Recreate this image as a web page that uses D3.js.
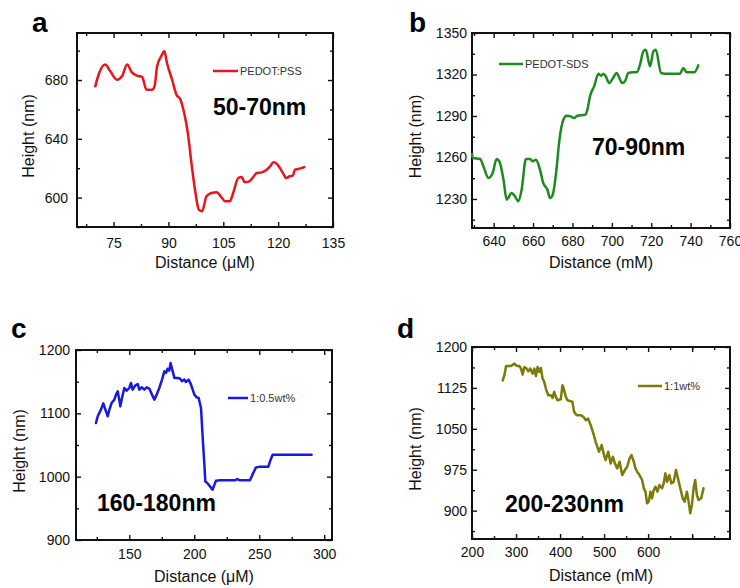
<!DOCTYPE html>
<html>
<head>
<meta charset="utf-8">
<script src="https://cdn.jsdelivr.net/npm/d3@7"></script>
<style>
  html, body { margin: 0; padding: 0; background: #fff; }
  svg { display: block; font-family: "Liberation Sans", Arial, sans-serif; }
</style>
</head>
<body>
<svg id="chart" width="740" height="588"></svg>
<script>
// ---- Height profiles (distance vs. film height) ----
const aDist = [70.0,70.9,72.7,74.1,75.9,77.3,78.7,80.0,81.4,82.8,84.0,85.5,86.2,86.9,88.0,88.9,89.6,91.0,92.2,93.3,94.2,95.3,96.4,97.4,98.3,99.2,100.4,101.8,103.2,104.3,105.5,106.8,107.7,109.1,110.0,110.9,112.1,113.2,114.1,115.5,116.7,117.8,118.7,119.6,120.5,121.4,122.2,123.2,124.0,124.6,125.5,126.4,127.1];
const aHeight = [675.7,683.6,690.5,685.9,680.2,682.5,690.5,685.2,683.0,682.1,673.4,673.4,675.7,689.3,696.1,699.5,691.6,680.2,670.0,666.6,658.7,644.0,621.3,603.1,591.8,590.7,600.9,603.1,603.6,600.9,597.5,597.5,603.1,613.3,614.0,610.4,611.1,614.0,616.7,617.2,618.6,621.3,624.0,623.1,620.1,616.3,613.3,614.5,614.9,619.0,619.5,620.1,620.8];

const bDist = [629.1,629.3,633.1,635.1,637.3,639.5,641.5,642.9,645.0,646.6,649.1,650.8,652.5,654.2,656.4,658.5,659.8,661.5,663.5,665.2,667.3,668.6,670.0,671.7,673.4,675.4,677.1,679.1,680.8,682.5,686.4,687.6,688.9,691.0,693.2,694.5,695.7,696.9,698.6,700.3,702.5,703.6,705.3,706.7,708.4,710.4,712.6,714.3,716.0,717.2,719.4,721.1,722.3,725.0,727.0,734.6,736.3,738.0,741.9,743.9];
const bHeight = [1262.5,1259.6,1258.9,1252.4,1245.2,1248.8,1258.9,1257.2,1243.9,1229.5,1234.3,1231.9,1228.3,1236.7,1258.9,1258.9,1257.2,1258.4,1251.2,1241.5,1236.7,1230.7,1233.1,1248.8,1272.9,1287.3,1290.2,1289.7,1288.5,1290.2,1290.9,1294.6,1304.2,1311.4,1320.5,1319.1,1320.6,1318.7,1313.8,1316.7,1321.1,1318.2,1313.8,1315.1,1321.1,1321.6,1321.6,1327.1,1336.7,1337.9,1325.9,1336.7,1337.9,1321.1,1320.6,1320.6,1324.7,1321.6,1321.6,1326.6];

const cDist = [124.4,125.7,128.2,130.0,131.6,133.4,134.7,136.4,138.5,139.8,141.1,142.3,143.1,144.4,146.2,148.0,150.0,151.3,152.6,154.7,156.5,157.7,159.5,161.6,163.4,165.4,167.5,169.3,171.1,173.1,175.2,177.0,178.3,179.5,180.8,181.8,183.4,184.7,187.2,189.0,190.6,192.4,193.6,195.7,197.5,198.8,200.1,201.9,203.4,205.2,206.5,207.8,208.5,210.0,214.1,216.7,219.8,231.3,233.1,235.2,242.9,245.4,247.5,250.6,257.0,258.3,260.3,290.3];
const cHeight = [1084.7,1095.3,1105.8,1115.8,1105.8,1095.3,1105.8,1116.3,1121.6,1129.5,1134.7,1121.6,1111.0,1124.2,1140.0,1135.8,1140.0,1147.9,1137.4,1144.2,1146.3,1137.4,1141.1,1137.4,1141.1,1139.1,1129.5,1121.6,1129.5,1140.0,1153.3,1166.3,1163.8,1170.5,1167.4,1179.5,1166.3,1155.9,1155.9,1154.9,1150.6,1153.3,1149.5,1153.3,1145.3,1137.4,1129.5,1125.3,1124.2,1108.4,1061.0,1018.9,992.6,990.0,979.5,993.7,994.2,994.2,996.3,994.2,994.2,1005.8,1014.7,1015.8,1015.8,1024.2,1034.7,1034.7];

const dDist = [269.8,273.6,277.4,288.7,296.2,302.3,307.5,311.3,315.1,318.8,324.1,327.9,332.4,337.7,341.5,345.2,349.0,352.8,356.5,360.3,364.1,367.8,373.1,379.1,382.9,386.7,390.4,394.2,401.8,405.5,409.3,413.1,416.8,424.4,428.1,431.9,437.9,447.0,453.0,458.3,463.6,469.6,475.6,480.9,488.4,494.5,499.9,503.5,509.5,514.8,520.1,524.6,529.9,535.2,541.2,547.2,552.5,557.8,562.3,567.6,571.3,575.1,580.4,586.4,590.2,594.0,597.7,601.5,605.3,609.0,612.8,616.6,621.1,625.6,631.7,635.4,639.2,643.0,648.2,652.8,658.1,663.3,667.8,673.1,678.4,682.9,688.2,692.0,695.7,699.5,703.3,707.0,710.8,714.6,720.6,725.9];
const dHeight = [1139.0,1148.2,1165.2,1165.2,1169.5,1165.2,1165.2,1160.4,1149.4,1163.4,1160.4,1155.5,1160.4,1151.2,1160.4,1147.0,1163.4,1154.3,1161.6,1142.1,1136.0,1123.8,1111.6,1111.6,1106.7,1117.7,1108.5,1102.4,1104.3,1129.9,1120.7,1108.5,1102.4,1100.6,1099.4,1081.1,1075.0,1075.0,1072.0,1065.9,1068.9,1056.7,1041.5,1026.2,1008.1,1020.1,1001.8,992.7,1008.0,986.6,998.8,986.6,977.4,989.6,965.2,974.4,980.5,995.7,1001.8,989.6,977.4,971.3,965.2,956.1,940.9,934.8,913.4,916.5,934.8,922.6,937.8,943.9,934.8,947.0,940.9,950.0,968.3,953.0,965.2,950.0,953.0,974.4,959.2,940.9,922.6,916.5,934.8,916.5,895.1,910.4,940.9,956.1,928.7,919.5,922.6,940.9];

// ---- Axis ticks ----
const aXTicks = [75, 90, 105, 120, 135];
const aYTicks = [600, 640, 680];
const bXTicks = [640, 660, 680, 700, 720, 740, 760];
const bYTicks = [1230, 1260, 1290, 1320, 1350];
const cXTicks = [150, 200, 250, 300];
const cYTicks = [900, 1000, 1100, 1200];
const dXTicks = [200, 300, 400, 500, 600];
const dYTicks = [900, 975, 1050, 1125, 1200];

// ---- Labels ----
const panelLetters = ["a", "b", "c", "d"];
const seriesNames = ["PEDOT:PSS", "PEDOT-SDS", "1:0.5wt%", "1:1wt%"];
const thicknessNotes = ["50-70nm", "70-90nm", "160-180nm", "200-230nm"];
const xTitles = ["Distance (\u03bcM)", "Distance (mM)", "Distance (\u03bcM)", "Distance (mM)"];
const yTitle = "Height (nm)";

const svg = d3.select("#chart");

function drawPanel(p) {
  const g = svg.append("g");
  const x = d3.scaleLinear().domain(p.xDomain).range([p.left, p.right]);
  const y = d3.scaleLinear().domain(p.yDomain).range([p.bottom, p.top]);

  const inDom = (s) => (v) => v >= Math.min(...s.domain()) - 1e-9 && v <= Math.max(...s.domain()) + 1e-9;
  const xMaj = p.xMajor.filter(inDom(x));
  const yMaj = p.yMajor.filter(inDom(y));
  const xMin = d3.range(p.xMajor[0] - p.xStep, p.xDomain[1] + p.xStep, p.xStep / 2)
    .filter(v => !p.xMajor.includes(v)).filter(inDom(x));
  const yMin = d3.range(p.yMajor[0] - p.yStep, p.yDomain[1] + p.yStep, p.yStep / 2)
    .filter(v => !p.yMajor.includes(v)).filter(inDom(y));
  const xMajAll = d3.range(p.xMajor[0], p.xDomain[1] + 1e-9, p.xStep).filter(inDom(x));

  const styleAxis = (sel) => {
    sel.select(".domain").remove();
    sel.selectAll("line").attr("stroke", "#111").attr("stroke-width", 1.4);
    sel.selectAll("text").attr("fill", "#111").style("font-size", "14px")
      .style("font-family", "'Liberation Sans', Arial, sans-serif");
  };

  // bottom axis with labels
  g.append("g").attr("transform", `translate(0,${p.bottom})`)
    .call(d3.axisBottom(x).tickValues(xMaj).tickSizeInner(-5).tickSizeOuter(0).tickPadding(p.xPad).tickFormat(d3.format("d")))
    .call(styleAxis);
  // extra major ticks without labels
  g.append("g").attr("transform", `translate(0,${p.bottom})`)
    .call(d3.axisBottom(x).tickValues(xMajAll.filter(v => !xMaj.includes(v))).tickSizeInner(-5).tickSizeOuter(0).tickFormat(""))
    .call(styleAxis);
  g.append("g").attr("transform", `translate(0,${p.bottom})`)
    .call(d3.axisBottom(x).tickValues(xMin).tickSizeInner(-3).tickSizeOuter(0).tickFormat(""))
    .call(styleAxis);
  // top axis
  g.append("g").attr("transform", `translate(0,${p.top})`)
    .call(d3.axisTop(x).tickValues(xMajAll).tickSizeInner(-5).tickSizeOuter(0).tickFormat(""))
    .call(styleAxis);
  g.append("g").attr("transform", `translate(0,${p.top})`)
    .call(d3.axisTop(x).tickValues(xMin).tickSizeInner(-3).tickSizeOuter(0).tickFormat(""))
    .call(styleAxis);
  // left axis with labels
  g.append("g").attr("transform", `translate(${p.left},0)`)
    .call(d3.axisLeft(y).tickValues(yMaj).tickSizeInner(-5).tickSizeOuter(0).tickPadding(p.yPad).tickFormat(d3.format("d")))
    .call(styleAxis);
  g.append("g").attr("transform", `translate(${p.left},0)`)
    .call(d3.axisLeft(y).tickValues(yMin).tickSizeInner(-3).tickSizeOuter(0).tickFormat(""))
    .call(styleAxis);
  // right axis
  g.append("g").attr("transform", `translate(${p.right},0)`)
    .call(d3.axisRight(y).tickValues(yMaj).tickSizeInner(-5).tickSizeOuter(0).tickFormat(""))
    .call(styleAxis);
  g.append("g").attr("transform", `translate(${p.right},0)`)
    .call(d3.axisRight(y).tickValues(yMin).tickSizeInner(-3).tickSizeOuter(0).tickFormat(""))
    .call(styleAxis);

  // frame
  g.append("rect")
    .attr("x", p.left).attr("y", p.top)
    .attr("width", p.right - p.left).attr("height", p.bottom - p.top)
    .attr("fill", "none").attr("stroke", "#111").attr("stroke-width", 2);

  // profile line
  const pts = p.xs.map((v, i) => [v, p.ys[i]]);
  g.append("path")
    .datum(pts)
    .attr("fill", "none")
    .attr("stroke", p.color)
    .attr("stroke-width", 2.5)
    .attr("stroke-linejoin", "round")
    .attr("stroke-linecap", "round")
    .attr("d", d3.line().x(d => x(d[0])).y(d => y(d[1])).curve(p.curve));

  // legend
  g.append("line")
    .attr("x1", p.legX).attr("x2", p.legX + p.legLen)
    .attr("y1", p.legY).attr("y2", p.legY)
    .attr("stroke", p.color).attr("stroke-width", 2.5);
  g.append("text")
    .attr("x", p.legX + p.legLen + 2).attr("y", p.legY + 4)
    .attr("fill", "#333").style("font-size", "11px")
    .text(p.name);

  // thickness note
  g.append("text")
    .attr("x", p.noteX).attr("y", p.noteY)
    .attr("fill", "#000").style("font-size", "23px").style("font-weight", "bold")
    .text(p.note);

  // panel letter
  g.append("text")
    .attr("x", p.letterX).attr("y", p.letterY)
    .attr("fill", "#000").style("font-size", "28px").style("font-weight", "bold")
    .text(p.letter);

  // axis titles
  g.append("text")
    .attr("x", (p.left + p.right) / 2).attr("y", p.xTitleY)
    .attr("text-anchor", "middle").attr("fill", "#111").style("font-size", "16px")
    .text(p.xTitle);
  g.append("text")
    .attr("transform", `translate(${p.yTitleX},${(p.top + p.bottom) / 2 + 6}) rotate(-90)`)
    .attr("text-anchor", "middle").attr("dy", "0.35em")
    .attr("fill", "#111").style("font-size", "16px")
    .text(yTitle);
}

drawPanel({
  left: 77, right: 333, top: 33, bottom: 227,
  xDomain: [65, 135], yDomain: [580, 712],
  xMajor: aXTicks, yMajor: aYTicks, xStep: 15, yStep: 40,
  xs: aDist, ys: aHeight, color: "#e8151c", curve: d3.curveMonotoneX,
  legX: 213, legY: 71, legLen: 25, name: seriesNames[0],
  noteX: 213, noteY: 115, note: thicknessNotes[0],
  letterX: 32, letterY: 32, letter: panelLetters[0],
  xTitle: xTitles[0], xTitleY: 268, yTitleX: 28, xPad: 11, yPad: 9
});

drawPanel({
  left: 472, right: 730, top: 33, bottom: 228,
  xDomain: [629, 760], yDomain: [1209, 1350],
  xMajor: bXTicks, yMajor: bYTicks, xStep: 20, yStep: 30,
  xs: bDist, ys: bHeight, color: "#1e8a1e", curve: d3.curveMonotoneX,
  legX: 499, legY: 64, legLen: 24, name: seriesNames[1],
  noteX: 592, noteY: 155, note: thicknessNotes[1],
  letterX: 409, letterY: 32, letter: panelLetters[1],
  xTitle: xTitles[1], xTitleY: 268, yTitleX: 415, xPad: 8, yPad: 5
});

drawPanel({
  left: 76, right: 332, top: 350, bottom: 540,
  xDomain: [109, 306], yDomain: [900, 1200],
  xMajor: cXTicks, yMajor: cYTicks, xStep: 50, yStep: 100,
  xs: cDist, ys: cHeight, color: "#1818e0", curve: d3.curveLinear,
  legX: 228, legY: 398, legLen: 20, name: seriesNames[2],
  noteX: 97, noteY: 511, note: thicknessNotes[2],
  letterX: 11, letterY: 338, letter: panelLetters[2],
  xTitle: xTitles[2], xTitleY: 582, yTitleX: 19, xPad: 9, yPad: 6
});

drawPanel({
  left: 472, right: 730, top: 347, bottom: 539,
  xDomain: [200, 786], yDomain: [848, 1200],
  xMajor: dXTicks, yMajor: dYTicks, xStep: 100, yStep: 75,
  xs: dDist, ys: dHeight, color: "#7b7b08", curve: d3.curveLinear,
  legX: 638, legY: 386, legLen: 24, name: seriesNames[3],
  noteX: 505, noteY: 512, note: thicknessNotes[3],
  letterX: 397, letterY: 338, letter: panelLetters[3],
  xTitle: xTitles[3], xTitleY: 581, yTitleX: 415, xPad: 8, yPad: 5
});
</script>
</body>
</html>
